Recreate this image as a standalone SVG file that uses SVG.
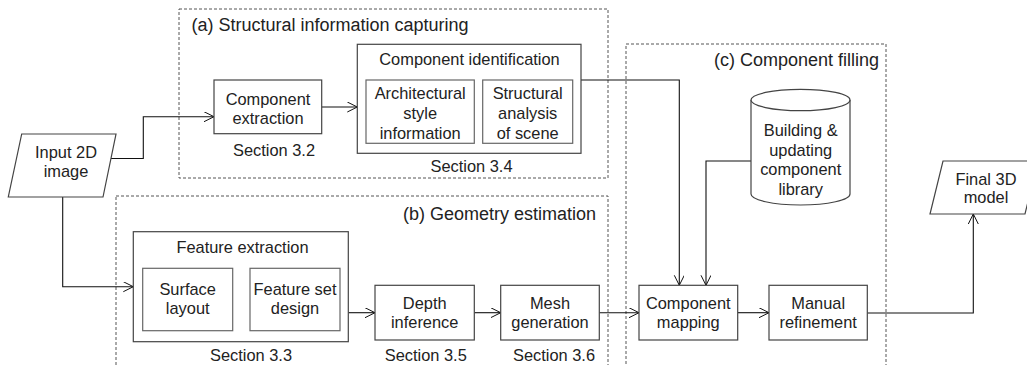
<svg xmlns="http://www.w3.org/2000/svg" width="1027" height="365" viewBox="0 0 1027 365">
<defs>
<style>
text{font-family:"Liberation Sans",Arial,sans-serif;font-size:16.4px;fill:#222;text-anchor:middle}
.title{font-size:18px}
.start{text-anchor:start}
.end{text-anchor:end}
.grp{fill:none;stroke:#555;stroke-width:1;stroke-dasharray:3,2}
.box{fill:#fff;stroke:#444;stroke-width:1.2}
.inner{fill:#fff;stroke:#666;stroke-width:1.2}
.con{fill:none;stroke:#111;stroke-width:1.1}
</style>
<marker id="arr" markerWidth="12" markerHeight="12" refX="10" refY="5" orient="auto" markerUnits="userSpaceOnUse">
<path d="M0,0 L10,5 L0,10" fill="none" stroke="#111" stroke-width="1"/>
</marker>
</defs>
<rect width="1027" height="365" fill="#fff"/>

<g id="group-a">
<rect class="grp" x="179" y="9" width="429" height="169"/>
<text class="title start" x="191.5" y="31">(a) Structural information capturing</text>
</g>
<g id="group-b">
<rect class="grp" x="116" y="196" width="492" height="200"/>
<text class="title end" x="596" y="220">(b) Geometry estimation</text>
</g>
<g id="group-c">
<rect class="grp" x="626" y="44" width="260" height="350"/>
<text class="title end" x="879" y="65.5">(c) Component filling</text>
</g>

<g id="connectors">
<path class="con" d="M111,158.5 H143.3 V116.7 H214" marker-end="url(#arr)"/>
<path class="con" d="M62.7,197 V286.7 H133.3" marker-end="url(#arr)"/>
<path class="con" d="M321.7,107 H357.3" marker-end="url(#arr)"/>
<path class="con" d="M581,80 H679.3 V285.3" marker-end="url(#arr)"/>
<path class="con" d="M751,161 H706 V285.3" marker-end="url(#arr)"/>
<path class="con" d="M348.3,312.7 H375" marker-end="url(#arr)"/>
<path class="con" d="M474.3,312.7 H500.7" marker-end="url(#arr)"/>
<path class="con" d="M599.3,312.7 H639" marker-end="url(#arr)"/>
<path class="con" d="M737.7,312.7 H769" marker-end="url(#arr)"/>
<path class="con" d="M867.3,313 H973.3 V214" marker-end="url(#arr)"/>
</g>

<g id="input">
<polygon class="box" points="21.7,134 116,134 103,197 8.3,197"/>
<text x="66" y="158">Input 2D</text>
<text x="66" y="176.5">image</text>
</g>

<g id="component-extraction">
<rect class="box" x="214" y="80" width="107.7" height="53.7"/>
<text x="268" y="104.5">Component</text>
<text x="268" y="123.5">extraction</text>
<text x="274" y="156">Section 3.2</text>
</g>

<g id="component-identification">
<rect class="box" x="357.3" y="44.3" width="223.7" height="109"/>
<text x="469.5" y="65">Component identification</text>
<text x="471.5" y="172.3">Section 3.4</text>
</g>
<g id="architectural-style">
<rect class="inner" x="366" y="80" width="108.3" height="63.3"/>
<text x="420.2" y="99">Architectural</text>
<text x="420.2" y="118.8">style</text>
<text x="420.2" y="138.5">information</text>
</g>
<g id="structural-analysis">
<rect class="inner" x="482.7" y="80" width="90" height="63.3"/>
<text x="527.7" y="99">Structural</text>
<text x="527.7" y="118.8">analysis</text>
<text x="527.7" y="138.5">of scene</text>
</g>

<g id="feature-extraction">
<rect class="box" x="133.3" y="231.7" width="215" height="110"/>
<text x="242.5" y="253.3">Feature extraction</text>
<text x="251" y="361">Section 3.3</text>
</g>
<g id="surface-layout">
<rect class="inner" x="142.7" y="268.3" width="90" height="62.4"/>
<text x="187.7" y="295">Surface</text>
<text x="187.7" y="314">layout</text>
</g>
<g id="feature-set-design">
<rect class="inner" x="250" y="268.3" width="90" height="62.4"/>
<text x="295" y="295">Feature set</text>
<text x="295" y="314">design</text>
</g>

<g id="depth-inference">
<rect class="box" x="375" y="285.3" width="99.3" height="54.7"/>
<text x="424.7" y="309.3">Depth</text>
<text x="424.7" y="328.3">inference</text>
<text x="425.8" y="361">Section 3.5</text>
</g>
<g id="mesh-generation">
<rect class="box" x="500.7" y="285.3" width="98.6" height="54.7"/>
<text x="550" y="309.3">Mesh</text>
<text x="550" y="328.3">generation</text>
<text x="554" y="361">Section 3.6</text>
</g>

<g id="component-library">
<path class="box" d="M751,100 V194 A49.5,11 0 0 0 850,194 V100"/>
<ellipse class="box" cx="800.5" cy="100" rx="49.5" ry="10.7"/>
<text x="800.7" y="136">Building &amp;</text>
<text x="800.7" y="155.5">updating</text>
<text x="800.7" y="175">component</text>
<text x="800.7" y="194.5">library</text>
</g>

<g id="component-mapping">
<rect class="box" x="639" y="285.3" width="98.7" height="54.7"/>
<text x="688.3" y="309.3">Component</text>
<text x="688.3" y="328.3">mapping</text>
</g>
<g id="manual-refinement">
<rect class="box" x="769" y="285.3" width="98.3" height="54.7"/>
<text x="818.2" y="309.3">Manual</text>
<text x="818.2" y="328.3">refinement</text>
</g>

<g id="final-model">
<polygon class="box" points="943,161 1038,161 1025,214 930,214"/>
<text x="986" y="184.5">Final 3D</text>
<text x="986" y="203">model</text>
</g>
</svg>
